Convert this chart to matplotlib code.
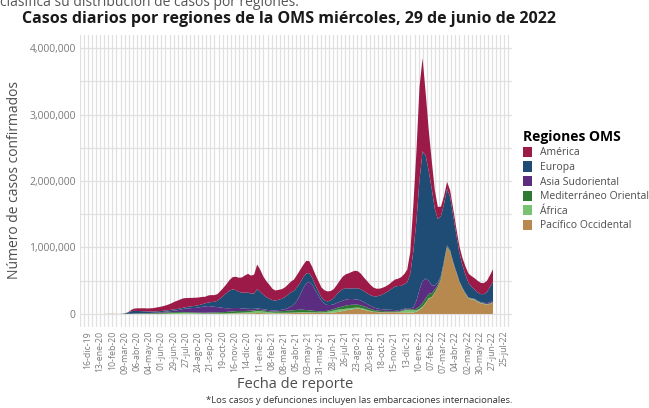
import numpy as np
import pandas as pd
import matplotlib
matplotlib.use('Agg')
import matplotlib.pyplot as plt
import matplotlib.dates as mdates
from matplotlib.patches import Patch

plt.rcParams['font.family'] = ['Open Sans', 'DejaVu Sans']

# semanas (lunes) desde 20-ene-2020 hasta 27-jun-2022; promedio diario en miles
semanas = pd.date_range('2020-01-20', '2022-06-27', freq='7D')

america = [0, 0, 0, 0, 0, 0,
           0.1, 1, 6, 22, 35,
           40, 42, 45, 45,
           47, 50, 57, 62,
           68, 75, 85, 97, 115,
           125, 135, 140, 135,
           130, 125, 120, 115, 110,
           100, 105, 105, 100,
           100, 110, 120, 135,
           160, 185, 200, 210, 230,
           260, 280, 270, 285,
           370, 330, 275, 240,
           210, 170, 150, 150,
           145, 145, 150, 160, 170,
           185, 195, 185, 190,
           180, 165, 160, 155, 150,
           155, 150, 140, 135,
           140, 160, 190, 210,
           230, 250, 265, 255, 230,
           200, 180, 155, 130,
           115, 105, 100, 95,
           95, 100, 105, 110, 130,
           150, 190, 330, 700,
           1050, 1400, 1400, 950, 620,
           420, 280, 185, 140,
           120, 105, 100, 100,
           95, 100, 110, 125,
           140, 160, 170, 175, 170,
           165, 170, 175, 185]

europa = [0, 0, 0, 0, 0, 0.3,
          2, 8, 22, 38, 40,
          37, 33, 30, 26,
          23, 20, 19, 18,
          17, 17, 18, 19, 19,
          20, 20, 21, 22,
          25, 28, 33, 36, 40,
          45, 55, 65, 75,
          95, 135, 185, 230,
          265, 280, 270, 245, 235,
          240, 245, 230, 230,
          290, 255, 220, 190,
          170, 155, 150, 155,
          165, 180, 200, 215, 205,
          200, 180, 165, 150,
          130, 100, 78, 62, 52,
          48, 55, 70, 95,
          130, 160, 175, 170,
          160, 160, 165, 170, 170,
          165, 160, 160, 165,
          180, 200, 225, 255,
          285, 320, 355, 365, 360,
          370, 390, 520, 850,
          1200, 1650, 1950, 1850, 1650,
          1450, 1150, 950, 900,
          850, 850, 800, 700,
          560, 430, 340, 275,
          220, 170, 140, 125, 120,
          130, 165, 230, 290]

asia_sudoriental = [0, 0, 0, 0, 0, 0,
                    0, 0.1, 0.3, 0.5, 1.2,
                    1.5, 2, 2.5, 3,
                    4, 5, 7, 8,
                    10, 12, 15, 18, 23,
                    28, 36, 45, 55,
                    60, 66, 70, 78, 88,
                    95, 98, 93, 85,
                    78, 72, 62, 55,
                    52, 50, 47, 45, 40,
                    35, 30, 26, 23,
                    21, 19, 17, 16,
                    16, 15, 16, 18,
                    20, 26, 40, 58, 85,
                    140, 220, 320, 400,
                    430, 390, 310, 235, 155,
                    110, 85, 75, 70,
                    75, 80, 85, 90,
                    90, 85, 80, 75, 70,
                    62, 55, 45, 38,
                    32, 28, 26, 24,
                    22, 20, 18, 16, 15,
                    14, 15, 16, 30,
                    120, 250, 330, 300, 200,
                    120, 60, 35, 22,
                    16, 12, 10, 8,
                    6, 5, 5, 5,
                    5, 5, 5, 6, 7,
                    9, 13, 17, 19]

mediterraneo = [0, 0, 0, 0, 0, 0.2,
                1, 1.5, 2, 3, 4,
                4.5, 5.5, 6.5, 7,
                8.5, 9, 10, 12,
                14, 16, 16, 16, 15,
                13, 12, 12, 10,
                10, 10, 10, 10, 10,
                11, 13, 14, 16,
                18, 20, 20, 22,
                24, 26, 27, 27, 25,
                23, 21, 19, 18,
                18, 17, 16, 16,
                17, 17, 19, 22,
                25, 28, 31, 33, 36,
                39, 40, 38, 34,
                30, 26, 22, 19, 17,
                16, 16, 18, 22,
                28, 35, 42, 48,
                50, 50, 47, 44, 40,
                37, 33, 28, 24,
                20, 18, 16, 14,
                13, 12, 11, 10, 10,
                10, 11, 12, 16,
                25, 40, 55, 65, 65,
                55, 45, 35, 28,
                22, 18, 15, 12,
                10, 9, 8, 7,
                6, 6, 5, 5, 5,
                5, 5, 5, 5]

africa = [0, 0, 0, 0, 0, 0,
          0, 0.05, 0.2, 0.4, 0.6,
          0.8, 1, 1.2, 1.5,
          2, 2.5, 3, 3.5,
          4.5, 5.5, 7, 9, 11,
          13, 15, 15, 14,
          12, 10, 8, 7, 6,
          5, 5, 4.5, 4,
          4, 4, 4.5, 5,
          6, 7, 8, 9, 10,
          12, 16, 20, 25,
          30, 29, 24, 20,
          15, 12, 10, 9,
          8, 7, 7, 7, 7,
          7, 7, 7, 7,
          7, 7, 7, 8, 10,
          13, 18, 24, 30,
          35, 33, 28, 25,
          22, 20, 19, 18, 16,
          14, 11, 9, 7,
          6, 5, 4, 3.5,
          3, 3, 3, 5, 15,
          30, 40, 38, 30,
          20, 15, 11, 9, 7,
          6, 5, 5, 4,
          3.5, 3, 3, 3,
          3, 3, 3, 4,
          6, 8, 8, 7, 6,
          5, 4, 4, 4]

pacifico = [0.5, 2.5, 3.5, 3, 1.5, 0.8,
            0.8, 0.5, 0.8, 1, 1.2,
            1.5, 1.5, 1, 0.8,
            0.8, 0.8, 0.8, 0.8,
            0.8, 1, 1, 1.5, 1.5,
            2, 2.5, 3.5, 4,
            4, 4, 3.5, 3, 2.5,
            2.5, 2.5, 2.5, 3,
            3, 3, 3.5, 4,
            5, 6, 8, 9, 9,
            10, 11, 11, 12,
            15, 14, 12, 11,
            10, 9, 8, 9,
            10, 11, 12, 13, 14,
            16, 18, 19, 18,
            18, 17, 16, 15, 14,
            14, 15, 18, 22,
            28, 35, 45, 55,
            62, 70, 75, 78, 72,
            62, 50, 40, 32,
            27, 25, 24, 24,
            26, 27, 26, 24, 24,
            24, 22, 20, 22,
            35, 60, 100, 160, 230,
            250, 320, 400, 520,
            760, 1000, 930, 760,
            620, 480, 380, 300,
            230, 220, 210, 180, 160,
            150, 140, 150, 170]

regiones = ['América', 'Europa', 'Asia Sudoriental', 'Mediterráneo Oriental',
            'África', 'Pacífico Occidental']
colores = ['#9c1a48', '#1e4c75', '#5a2d80', '#2f7a33', '#78c271', '#b8894f']

fechas_ticks = pd.date_range('2019-12-16', '2022-07-25', freq='28D')
meses = ['ene', 'feb', 'mar', 'abr', 'may', 'jun', 'jul', 'ago', 'sep', 'oct', 'nov', 'dic']
etiquetas = [f"{d.day:02d}-{meses[d.month - 1]}-{d.strftime('%y')}" for d in fechas_ticks]

fig = plt.figure(figsize=(6.49, 4.08), dpi=100)
ax = fig.add_axes([0.1233, 0.1995, 0.666, 0.7154])

x = semanas + pd.Timedelta(days=2)
# orden de apilado: Pacífico abajo, América arriba
capas = [pacifico, africa, mediterraneo, asia_sudoriental, europa, america]
cols = colores[::-1]
ax.stackplot(x, *[np.array(c) * 1000 for c in capas], colors=cols, linewidth=0, zorder=2)

ax.set_xlim(pd.Timestamp('2019-11-28'), pd.Timestamp('2022-08-12'))
ax.set_ylim(-190000, 4200000)

ax.set_xticks(fechas_ticks)
ax.set_xticklabels(etiquetas, rotation=90, fontsize=6.3, color='#7a7a7a')
t0 = mdates.date2num(fechas_ticks[0])
t1 = mdates.date2num(pd.Timestamp('2022-08-12'))
menores = np.arange(t0 - 28, t1, 28 / 3)
for m in menores:
    ax.axvline(m, color='#e0e0e0', linewidth=0.9, zorder=0)

ax.set_yticks(np.arange(0, 4000001, 1000000))
ax.set_yticklabels([f'{v:,}' for v in range(0, 4000001, 1000000)], fontsize=7.5, color='#7a7a7a')
for v in np.arange(0, 4200000, 500000):
    ax.axhline(v, color='#e0e0e0', linewidth=0.9, zorder=0)

ax.tick_params(length=0, pad=3)
for s in ax.spines.values():
    s.set_visible(False)

fig.text(0.0, 0.995, 'clasifica su distribución de casos por regiones.', fontsize=10,
         color='#555555', ha='left', va='center')
fig.text(0.445, 0.953, 'Casos diarios por regiones de la OMS miércoles, 29 de junio de 2022',
         fontsize=11.5, fontweight='bold', ha='center', va='center', color='#1a1a1a')
fig.text(0.022, 0.559, 'Número de casos confirmados', rotation=90, fontsize=10,
         ha='center', va='center', color='#4d4d4d')
fig.text(0.455, 0.057, 'Fecha de reporte', fontsize=10.5, ha='center', va='center', color='#4d4d4d')
fig.text(0.789, 0.018, '*Los casos y defunciones incluyen las embarcaciones internacionales.',
         fontsize=6.8, ha='right', va='center', color='#333333')

handles = [Patch(facecolor=c, edgecolor='none') for c in colores]
leg = fig.legend(handles, regiones, title='Regiones OMS', loc='upper left',
                 bbox_to_anchor=(0.806, 0.682), frameon=False, fontsize=7.5,
                 title_fontproperties={'weight': 'bold', 'size': 10},
                 handlelength=0.9, handleheight=1.15, handletextpad=0.7,
                 labelspacing=0.28, alignment='left', borderaxespad=0, borderpad=0)
for t in leg.get_texts():
    t.set_color('#4d4d4d')

fig.savefig('out.png', dpi=100, facecolor='white')
